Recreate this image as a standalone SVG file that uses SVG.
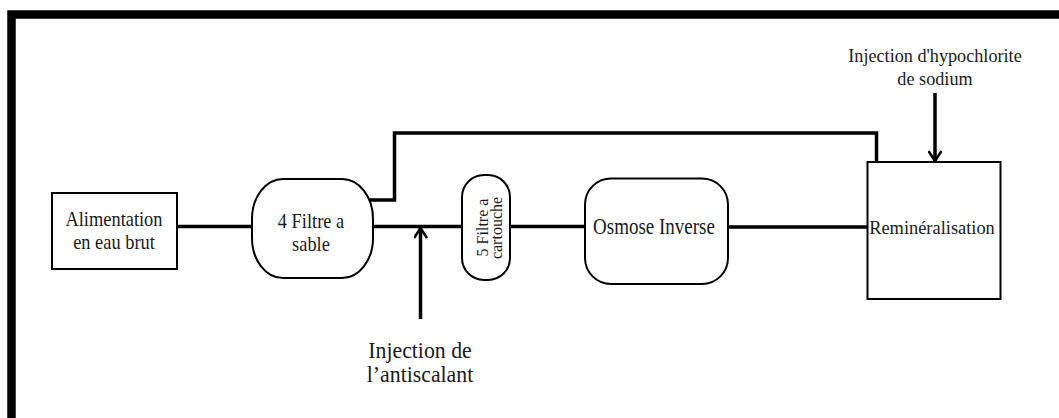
<svg xmlns="http://www.w3.org/2000/svg" width="1059" height="418" viewBox="0 0 1059 418">
<style>
.shape{fill:#fff;stroke:#000;stroke-width:2}
.line{fill:none;stroke:#000;stroke-width:3.5}
.t{font-family:"Liberation Serif","Times New Roman",serif;fill:#1a1a1a;text-anchor:middle}
</style>
<defs>
<marker id="v" markerWidth="14" markerHeight="14" viewBox="0 0 14 14" refX="12" refY="7" orient="auto" markerUnits="userSpaceOnUse">
<path d="M2 0.5 L12 7 L2 13.5" fill="none" stroke="#000" stroke-width="2.5"/>
</marker>
</defs>
<rect width="1059" height="418" fill="#fff"/>
<path d="M11.5 418 V14.5 H1059" fill="none" stroke="#000" stroke-width="8.5"/>
<g id="connectors">
<line class="line" x1="177" y1="226.5" x2="252" y2="226.5"/>
<line class="line" x1="373" y1="226.5" x2="462" y2="226.5"/>
<line class="line" x1="510" y1="226.5" x2="585" y2="226.5"/>
<line class="line" x1="728" y1="227" x2="867" y2="227"/>
<polyline class="line" points="369,200 394.5,200 394.5,133 876.5,133 876.5,162"/>
<line class="line" x1="420.5" y1="319" x2="420.5" y2="228" marker-end="url(#v)"/>
<line class="line" x1="935" y1="93" x2="935" y2="161" marker-end="url(#v)"/>
</g>
<g id="alimentation">
<rect class="shape" x="52" y="193" width="125" height="76"/>
<text class="t" font-size="18.4" transform="translate(114,226) scale(1,1.15)">Alimentation</text>
<text class="t" font-size="18.4" transform="translate(114,248.5) scale(1,1.15)">en eau brut</text>
</g>
<g id="filtre-sable">
<rect class="shape" x="252" y="179" width="121" height="99" rx="31" ry="40"/>
<text class="t" font-size="18.4" transform="translate(311,228) scale(1,1.15)">4 Filtre a</text>
<text class="t" font-size="18.4" transform="translate(311,250.5) scale(1,1.15)">sable</text>
</g>
<g id="filtre-cartouche">
<rect class="shape" x="462" y="175" width="48" height="105" rx="22" ry="22"/>
<text class="t" font-size="16" transform="translate(487.5,227.5) rotate(-90)">5 Filtre a</text>
<text class="t" font-size="16" transform="translate(501.5,228) rotate(-90)">cartouche</text>
</g>
<g id="osmose">
<rect class="shape" x="585" y="178.5" width="143" height="105.5" rx="26" ry="26"/>
<text class="t" font-size="19" transform="translate(654,234.3) scale(1,1.25)">Osmose Inverse</text>
</g>
<g id="remineralisation">
<rect class="shape" x="867.5" y="162" width="133" height="137"/>
<text class="t" font-size="18.4" x="932" y="234">Reminéralisation</text>
</g>
<g id="hypochlorite">
<text class="t" font-size="18.2" x="935" y="61.7">Injection d'hypochlorite</text>
<text class="t" font-size="18.2" x="935" y="85">de sodium</text>
</g>
<g id="antiscalant">
<text class="t" font-size="21.8" transform="translate(420,357.5) scale(1,1.05)">Injection de</text>
<text class="t" font-size="21.8" transform="translate(420,382) scale(1,1.05)">l’antiscalant</text>
</g>
</svg>
